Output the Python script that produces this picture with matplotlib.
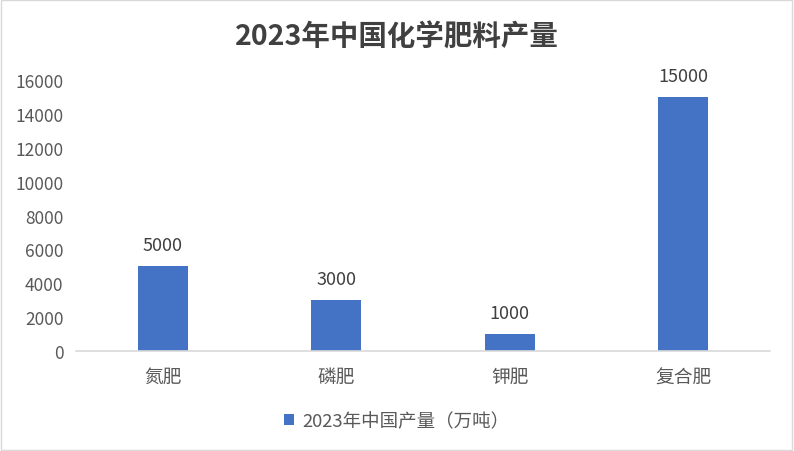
import matplotlib.pyplot as plt
from matplotlib.patches import Rectangle

plt.rcParams['font.family'] = ['Noto Sans CJK SC', 'DejaVu Sans']

categories = ["氮肥", "磷肥", "钾肥", "复合肥"]
values = [5000, 3000, 1000, 15000]
yticks = [0, 2000, 4000, 6000, 8000, 10000, 12000, 14000, 16000]
series_name = "2023年中国产量（万吨）"
title = "2023年中国化学肥料产量"

bar_color = "#4472C4"
text_color = "#595959"

fig = plt.figure(figsize=(7.94, 4.52), dpi=100)
ax = fig.add_axes([0.0957, 0.2212, 0.874, 0.5996])

x = list(range(len(categories)))
ax.bar(x, values, width=0.29, color=bar_color, label=series_name)
for xi, v in zip(x, values):
    ax.text(xi, v + 700, str(v), ha="center", va="bottom", fontsize=13, color="#404040")

ax.set_xlim(-0.5, len(categories) - 0.5)
ax.set_ylim(0, 16000)
ax.set_yticks(yticks)
ax.set_xticks(x)
ax.set_xticklabels(categories)
ax.tick_params(axis="y", length=0, labelsize=12.5, labelcolor=text_color, pad=9)
ax.tick_params(axis="x", length=0, labelsize=13.5, labelcolor=text_color, pad=11)
for side in ["top", "right", "left"]:
    ax.spines[side].set_visible(False)
ax.spines["bottom"].set_color("#D9D9D9")
ax.spines["bottom"].set_linewidth(1.2)

fig.text(0.5, 0.918, title, ha="center", va="center", fontsize=20.5,
         fontweight="bold", color="#404040")

leg = fig.legend(loc="center", bbox_to_anchor=(0.5, 0.066), frameon=False,
                 fontsize=13.3, handlelength=0.55, handleheight=0.55,
                 handletextpad=0.45)
for t in leg.get_texts():
    t.set_color(text_color)

fig.patches.append(Rectangle((0.001, 0.002), 0.997, 0.996, transform=fig.transFigure,
                             fill=False, edgecolor="#D9D9D9", linewidth=1))

fig.savefig("out.png", dpi=100)
